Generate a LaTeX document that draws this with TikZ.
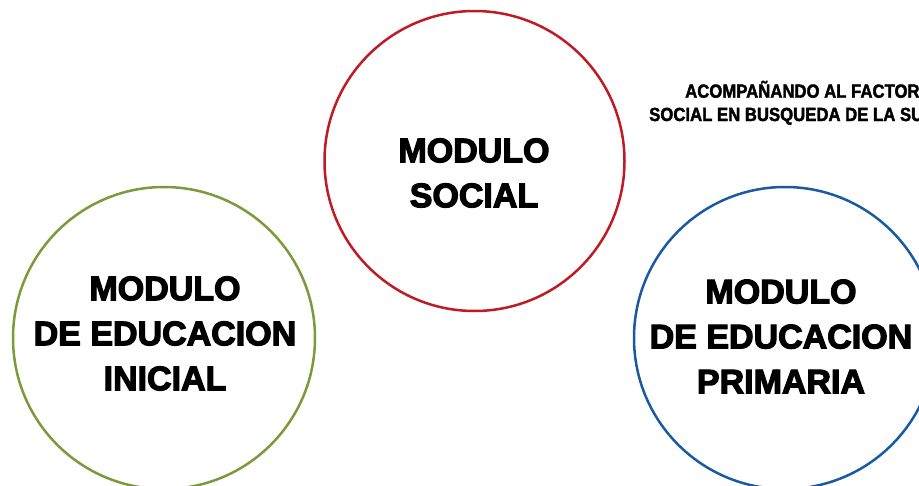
\documentclass[tikz,border=0pt]{standalone}
\usepackage{fontspec}
\setmainfont{Liberation Sans}
\newfontfamily\heavyfont{Liberation Sans}[UprightFeatures={FakeBold=3.5}, BoldFeatures={FakeBold=3.5}]
\newfontfamily\condfont{Liberation Sans}[FakeStretch=0.88, UprightFeatures={FakeBold=2}, BoldFeatures={FakeBold=2}]
\definecolor{cred}{HTML}{C01A24}
\definecolor{cgreen}{HTML}{7A9A3C}
\definecolor{cblue}{HTML}{1A5AA0}
\begin{document}
\begin{tikzpicture}[x=1pt,y=-1pt,
  ring/.style={circle, draw, line width=2.5pt, minimum size=#1, inner sep=0pt},
  bigtext/.style={align=center, inner sep=0pt, font=\heavyfont\bfseries\fontsize{34}{45}\selectfont},
  smalltext/.style={anchor=base west, inner sep=0pt, font=\condfont\bfseries\fontsize{19}{22}\selectfont}]
\useasboundingbox (0,0) rectangle (919,485);
\clip (0,0) rectangle (919,485);
\node[ring=300pt, cred] (social) at (474.5,161) {};
\node[ring=302pt, cgreen] (inicial) at (164,338) {};
\node[ring=302pt, cblue] (primaria) at (785,338) {};
\node[bigtext] (tsocial) at (474,173) {MODULO\\SOCIAL};
\node[bigtext] (tinicial) at (165,333.5) {MODULO\\DE EDUCACION\\INICIAL};
\node[bigtext] (tprimaria) at (781,336.5) {MODULO\\DE EDUCACION\\PRIMARIA};
\node[smalltext] (line1) at (685,97.7) {ACOMPAÑANDO AL FACTOR};
\node[smalltext] (line2) at (649,121) {SOCIAL EN BUSQUEDA DE LA SU};
\end{tikzpicture}
\end{document}
